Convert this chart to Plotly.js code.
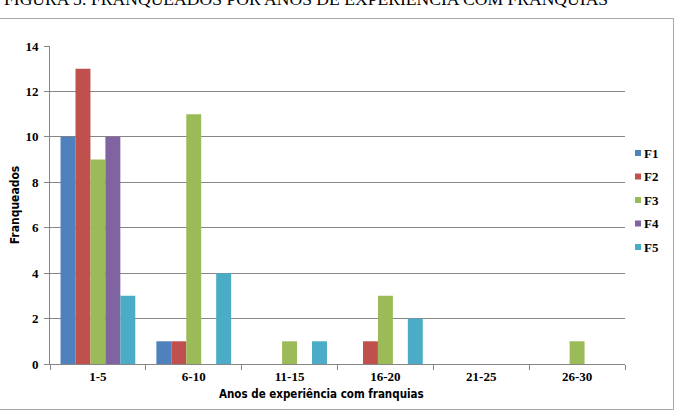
<!DOCTYPE html>
<html>
<head>
<meta charset="utf-8">
<script src="https://cdn.plot.ly/plotly-3.0.1.min.js"></script>
<style>
  html, body { margin: 0; padding: 0; background: #ffffff; }
  #chart { width: 675px; height: 415px; }
</style>
</head>
<body>
<div id="chart"></div>
<script>
const categories = ['1-5', '6-10', '11-15', '16-20', '21-25', '26-30'];
const seriesNames = ['F1', 'F2', 'F3', 'F4', 'F5'];
const f1 = [10, 1, 0, 0, 0, 0];
const f2 = [13, 1, 0, 1, 0, 0];
const f3 = [9, 11, 1, 3, 0, 1];
const f4 = [10, 0, 0, 0, 0, 0];
const f5 = [3, 4, 1, 2, 0, 0];
const yTicks = [0, 2, 4, 6, 8, 10, 12, 14];
const figureTitle = 'FIGURA 5: FRANQUEADOS POR ANOS DE EXPERIÊNCIA COM FRANQUIAS';
const sourceNote = 'Fonte: Elaborado pelo autor';
const xTitle = 'Anos de experiência com franquias';
const yTitle = 'Franqueados';

const seriesValues = [f1, f2, f3, f4, f5];
const colors = ['#4F81BD', '#C0504D', '#9BBB59', '#8064A2', '#4BACC6'];

const W = 675, H = 415;
const L = 50, R = 625, T = 46, B = 364;
const pw = R - L, ph = B - T;
const px = v => (v - L) / pw;
const py = v => (B - v) / ph;

const serif = '"Times New Roman", "Liberation Serif", serif';
const narrow = '"DejaVu Sans Condensed", "DejaVu Sans", sans-serif';
const axisGray = '#868686';

const traces = seriesNames.map((name, i) => ({
  type: 'bar',
  name: name,
  x: categories,
  y: seriesValues[i],
  marker: { color: colors[i], line: { width: 0 } },
  showlegend: false,
  hoverinfo: 'x+y+name'
}));

const shapes = [
  { type: 'rect', xref: 'paper', yref: 'paper',
    x0: px(-2), x1: px(673.5), y0: py(409.5), y1: py(18.5),
    line: { color: '#A6A6A6', width: 1 }, fillcolor: 'rgba(0,0,0,0)', layer: 'below' }
];
const annotations = [
  { xref: 'paper', yref: 'paper', x: px(306), y: py(11), xanchor: 'center', yanchor: 'bottom',
    text: figureTitle, showarrow: false, font: { family: serif, size: 17.6, color: '#000' } },
  { xref: 'paper', yref: 'paper', x: px(-1), y: py(411), xanchor: 'left', yanchor: 'top',
    text: sourceNote, showarrow: false, font: { family: serif, size: 10, color: '#000' } },
  { xref: 'paper', yref: 'paper', x: px(321), y: py(394), xanchor: 'center', yanchor: 'middle',
    text: xTitle, showarrow: false,
    font: { family: narrow, size: 11.5, color: '#000', weight: 'bold', stretch: 'condensed' } }
];
seriesNames.forEach((name, i) => {
  const cy = 153 + 23.5 * i;
  shapes.push({ type: 'rect', xref: 'paper', yref: 'paper',
    x0: px(635), x1: px(641), y0: py(cy + 3), y1: py(cy - 3),
    fillcolor: colors[i], line: { width: 0 } });
  annotations.push({ xref: 'paper', yref: 'paper', x: px(642), y: py(cy), xanchor: 'left', yanchor: 'middle',
    text: name, showarrow: false, font: { family: serif, size: 13, color: '#000', weight: 'bold' } });
});

const layout = {
  width: W, height: H,
  margin: { l: L, r: W - R, t: T, b: H - B, pad: 0 },
  paper_bgcolor: '#ffffff', plot_bgcolor: '#ffffff',
  barmode: 'group', bargap: 0.22, bargroupgap: 0,
  showlegend: false,
  xaxis: {
    type: 'category', categoryorder: 'array', categoryarray: categories,
    showline: true, linecolor: axisGray, linewidth: 1,
    ticks: 'outside', tickson: 'boundaries', ticklen: 5, tickcolor: axisGray,
    showgrid: false, zeroline: false,
    tickfont: { family: serif, size: 13, color: '#000', weight: 'bold' },
    automargin: false
  },
  yaxis: {
    range: [0, 14], tickvals: yTicks, ticktext: yTicks.map(String),
    showline: true, linecolor: axisGray, linewidth: 1,
    ticks: 'outside', ticklen: 5, tickcolor: axisGray,
    showgrid: true, gridcolor: axisGray, gridwidth: 1, zeroline: false,
    ticklabelstandoff: 3,
    tickfont: { family: serif, size: 13, color: '#000', weight: 'bold' },
    title: { text: yTitle, standoff: 3,
      font: { family: narrow, size: 12, color: '#000', weight: 'bold', stretch: 'condensed' } },
    automargin: false
  },
  shapes: shapes,
  annotations: annotations,
  font: { family: serif }
};

Plotly.newPlot('chart', traces, layout, { displayModeBar: false, staticPlot: true });
</script>
</body>
</html>
